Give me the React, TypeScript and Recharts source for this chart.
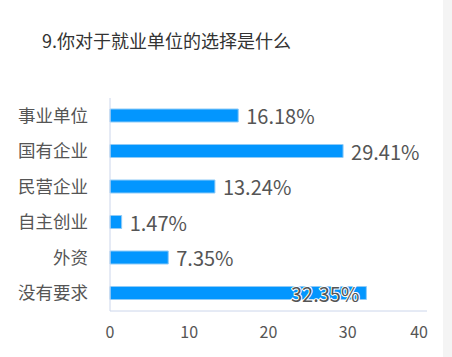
import { Bar, BarChart, LabelList, XAxis, YAxis } from "recharts";

const categories = ["事业单位", "国有企业", "民营企业", "自主创业", "外资", "没有要求"];
const percents = [16.18, 29.41, 13.24, 1.47, 7.35, 32.35];
const xTicks = [0, 10, 20, 30, 40];

const data = categories.map((name, i) => ({ name, value: percents[i] }));

const FONT = '"Microsoft YaHei", "Noto Sans CJK SC", sans-serif';

function XTick({ x, y, payload }: any) {
  const last = payload.value === xTicks[xTicks.length - 1];
  return (
    <text
      x={last ? x + 1 : x}
      y={y}
      dy="0.71em"
      textAnchor={last ? "end" : "middle"}
      fill="#555"
      fontSize={16}
      fontFamily={FONT}
    >
      {payload.value}
    </text>
  );
}

function ValueLabel({ x, y, width, height, value }: any) {
  const text = `${value.toFixed(2)}%`;
  const inside = value > 30;
  return (
    <text
      x={inside ? x + width - 7 : x + width + 8}
      y={y + height / 2}
      dominantBaseline="central"
      textAnchor={inside ? "end" : "start"}
      fill="#555"
      fontSize={20}
      fontFamily={FONT}
      stroke={inside ? "#fff" : "none"}
      strokeWidth={inside ? 2 : 0}
      paintOrder="stroke"
    >
      {text}
    </text>
  );
}

export default function App() {
  return (
    <div style={{ position: "absolute", left: 0, top: 0, width: 452, height: 357, background: "#fff" }}>
      <div style={{ position: "absolute", left: 443, top: 0, width: 9, height: 357, background: "#f4f4f4" }} />
      <div
        style={{
          position: "absolute",
          left: 42,
          top: 29,
          fontSize: 18,
          color: "#333",
          fontFamily: FONT,
          lineHeight: "22px",
          whiteSpace: "nowrap",
        }}
      >
        9.你对于就业单位的选择是什么
      </div>
      <BarChart
        width={452}
        height={357}
        layout="vertical"
        data={data}
        margin={{ top: 98, right: 25, bottom: 0, left: 0 }}
        style={{ position: "absolute", left: 0, top: 0 }}
      >
        <XAxis
          type="number"
          domain={[0, 40]}
          ticks={xTicks}
          axisLine={{ stroke: "#ccd6eb" }}
          tickLine={false}
          tickSize={0}
          tickMargin={16}
          tick={<XTick />}
          height={46}
        />
        <YAxis
          type="category"
          dataKey="name"
          width={110}
          interval={0}
          axisLine={{ stroke: "#ccd6eb" }}
          tickLine={false}
          tickSize={0}
          tickMargin={22}
          tick={{ fill: "#555", fontSize: 17.5, fontFamily: FONT }}
        />
        <Bar dataKey="value" fill="#0396fe" stroke="#8fcbf7" strokeWidth={1} barSize={13} isAnimationActive={false}>
          <LabelList dataKey="value" content={<ValueLabel />} />
        </Bar>
      </BarChart>
    </div>
  );
}
